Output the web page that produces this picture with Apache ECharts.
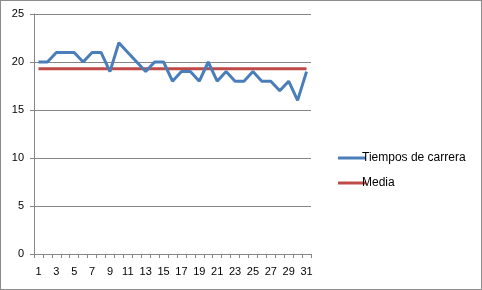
<!DOCTYPE html>
<html><head><meta charset="utf-8">
<script src="https://cdn.jsdelivr.net/npm/echarts@6/dist/echarts.min.js"></script>
<style>
html,body{margin:0;padding:0;background:#fff;}
#c{width:480px;height:288px;border:1px solid #8c8c8c;}
</style></head>
<body><div id="c"></div>
<script>
const categories = ['1','2','3','4','5','6','7','8','9','10','11','12','13','14','15','16','17','18','19','20','21','22','23','24','25','26','27','28','29','30','31'];
const tiempos = [20,20,21,21,21,20,21,21,19,22,21,20,19,20,20,18,19,19,18,20,18,19,18,18,19,18,18,17,18,16,19];
const media = [19.29,19.29,19.29,19.29,19.29,19.29,19.29,19.29,19.29,19.29,19.29,19.29,19.29,19.29,19.29,19.29,19.29,19.29,19.29,19.29,19.29,19.29,19.29,19.29,19.29,19.29,19.29,19.29,19.29,19.29,19.29];
const yTicks = [0,5,10,15,20,25];

const chart = echarts.init(document.getElementById('c'));
const font = {fontFamily:'Liberation Sans, Arial, sans-serif', fontSize:11, color:'#000'};
chart.setOption({
  animation:false,
  grid:{left:33,top:13,right:170,bottom:35},
  legend:{
    orient:'vertical', left:332, top:146, itemWidth:28, itemHeight:3, itemGap:13,
    icon:'rect',
    textStyle:Object.assign({}, font, {fontSize:12, padding:[0,0,0,-9]}),
    data:['Tiempos de carrera','Media']
  },
  xAxis:{
    type:'category', data:categories, boundaryGap:true,
    axisLine:{lineStyle:{color:'#868686'}},
    axisTick:{show:true, length:4, lineStyle:{color:'#868686'}, interval:0},
    axisLabel:Object.assign({}, font, {interval:1, margin:12})
  },
  yAxis:{
    type:'value', min:yTicks[0], max:yTicks[yTicks.length-1], interval:5,
    axisLine:{show:true, lineStyle:{color:'#868686'}},
    axisTick:{show:true, length:4, inside:false, lineStyle:{color:'#868686'}},
    splitLine:{lineStyle:{color:'#868686'}},
    axisLabel:Object.assign({}, font, {margin:10})
  },
  series:[
    {name:'Tiempos de carrera', type:'line', data:tiempos, symbol:'none',
     lineStyle:{color:'#4A7EBB', width:3}, itemStyle:{color:'#4A7EBB'}, z:3},
    {name:'Media', type:'line', data:media, symbol:'none',
     lineStyle:{color:'#BE4B48', width:3}, itemStyle:{color:'#BE4B48'}, z:2}
  ]
});
</script></body></html>
